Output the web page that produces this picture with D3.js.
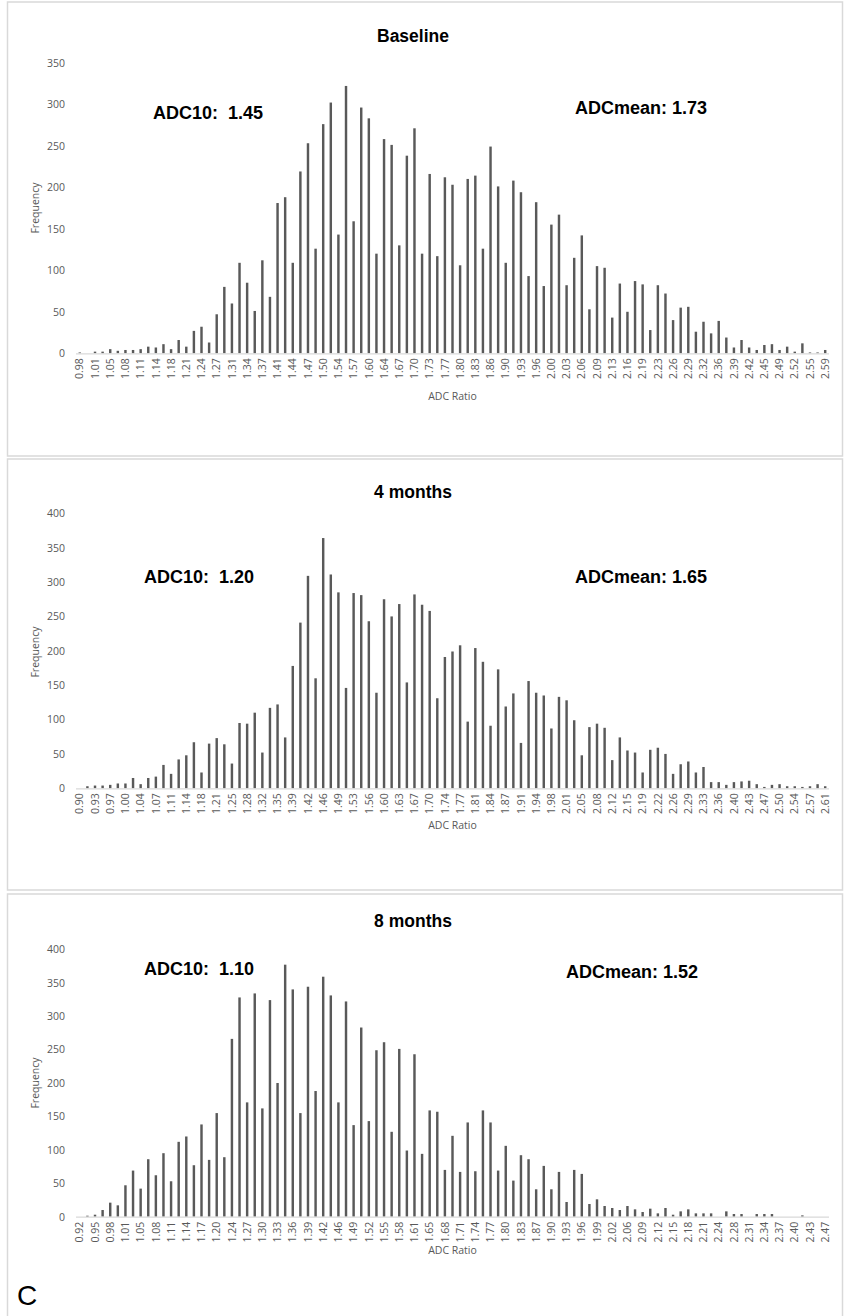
<!DOCTYPE html>
<html lang="en">
<head>
<meta charset="UTF-8">
<title>ADC Ratio histograms</title>
<script src="https://cdn.jsdelivr.net/npm/d3@7"></script>
<style>
    body{ margin:0; background:#fff; }
    svg{ display:block; }
    .tick text{ fill:#595959; font-family:"Open Sans", sans-serif; font-size:10.5px; }
    .axis-title{ fill:#595959; font-family:"Open Sans", sans-serif; font-size:10.5px; }
    .chart-title{ font-family:"Liberation Sans", Arial, sans-serif; font-weight:bold; font-size:17.5px; fill:#000; }
    .note{ font-family:"Liberation Sans", Arial, sans-serif; font-weight:bold; font-size:18px; fill:#000; white-space:pre; }
    .bar{ fill:#595959; }
    .frame{ fill:none; stroke:#d9d9d9; stroke-width:1.5px; }
</style>
</head>
<body>
<script>
// frequencies per bin
const baselineFreq = [1,0,2,2,5,3,4,4,5,8, 7,11,5,16,8,27,32,13,47,80, 60,109,85,51,112,68,181,188,109,
    219,253,126,276,302,143,322,159,296,283, 120,258,251,130,238,271,120,216,117,212, 203,106,210,214,126,249,201,109,208,194, 93,182,81,155,167,82,
    115,142,53,105,103,43,84,50,87,83, 28,82,72,40,55,56,26,38,24,39, 19,7,16,7,4,10,11,4,8,2, 12,1,1,4];
const month4Freq = [0,3,4,4,5,7,7,15,6,15, 17,34,21,42,48,67,23,65,73,64, 36,95,94,110,52,117,122,74,178,241,
    309,160,364,311,285,146,284,281,243,139, 275,250,268,154,282,267,258,131,191,199, 208,97,204,184,91,173,119,138,66,156, 139,135,87,133,128,
    99,48,89,94,88,41,74,55,52,23, 56,59,50,21,35,39,23,31,9,9, 5,9,10,11,6,2,5,6,3,3, 2,3,6,3];
const month8Freq = [0,1.5,3,10,21,17,47,69,42,86, 62,95,53,112,120,77,138,85,155,89, 266,328,171,334,162,324,200,377,340,
    155,344,188,359,331,171,322,137,283,143, 249,261,127,251,99,243,94,159,157,70, 121,67,141,68,159,141,69,106,54,92, 86,41,76,41,67,22,
    70,64,19,26,16,13,10,16,11,7, 12,5,13,3,8,11,5,5,5,0, 8,4,4,0,4,4,4,0,0,0, 2,0,0,0];

// category labels shown on every second bin
const baselineLabels = ["0.98","1.01","1.05","1.08","1.11","1.14","1.18","1.21","1.24","1.27","1.31","1.34","1.37","1.41","1.44","1.47","1.50","1.54","1.57","1.60",
    "1.64","1.67","1.70","1.73","1.77","1.80","1.83","1.86","1.90","1.93","1.96","2.00","2.03","2.06","2.09","2.13","2.16","2.19","2.23","2.26",
    "2.29","2.32","2.36","2.39","2.42","2.45","2.49","2.52","2.55","2.59"];
const month4Labels = ["0.90","0.93","0.97","1.00","1.04","1.07","1.11","1.14","1.18","1.21","1.25","1.28","1.32","1.35","1.39","1.42","1.46","1.49","1.53","1.56",
    "1.60","1.63","1.67","1.70","1.74","1.77","1.81","1.84","1.87","1.91","1.94","1.98","2.01","2.05","2.08","2.12","2.15","2.19","2.22","2.26",
    "2.29","2.33","2.36","2.40","2.43","2.47","2.50","2.54","2.57","2.61"];
const month8Labels = ["0.92","0.95","0.98","1.01","1.05","1.08","1.11","1.14","1.17","1.20","1.24","1.27","1.30","1.33","1.36","1.39","1.42","1.46","1.49","1.52",
    "1.55","1.58","1.61","1.65","1.68","1.71","1.74","1.77","1.80","1.83","1.87","1.90","1.93","1.96","1.99","2.02","2.06","2.09","2.12","2.15",
    "2.18","2.21","2.24","2.28","2.31","2.34","2.37","2.40","2.43","2.47"];

const titles = ["Baseline", "4 months", "8 months"];
const adc10 = ["1.45", "1.20", "1.10"];
const adcMean = ["1.73", "1.65", "1.52"];
const yMax = [350, 400, 400];

const width = 844, height = 1316;
const svg = d3.select("body").append("svg")
    .attr("width", width).attr("height", height)
    .attr("viewBox", `0 0 ${width} ${height}`);

// layout of the three stacked panels
const panels = [
    {freq: baselineFreq, labels: baselineLabels, frameTop: 2, frameBottom: 456, titleY: 42, y0: 353.3, yTop: 62.7,
        xTitleY: 400, freqY: 208, adc10Pos: [153, 119], meanPos: [575, 114]},
    {freq: month4Freq, labels: month4Labels, frameTop: 459, frameBottom: 890, titleY: 498, y0: 788.3, yTop: 513.3,
        xTitleY: 829, freqY: 652, adc10Pos: [144, 583], meanPos: [575, 583]},
    {freq: month8Freq, labels: month8Labels, frameTop: 894, frameBottom: 1330, titleY: 927, y0: 1216.7, yTop: 949.3,
        xTitleY: 1254, freqY: 1083, adc10Pos: [144, 975], meanPos: [566, 978]}
];

const xLeft = 76, xRight = 829;

panels.forEach((p, k) => {
    const g = svg.append("g");

    g.append("rect").attr("class", "frame")
        .attr("x", 7.5).attr("y", p.frameTop)
        .attr("width", 835).attr("height", p.frameBottom - p.frameTop);

    const idx = d3.range(p.freq.length);
    const x = d3.scaleBand()
        .domain(idx)
        .range([xLeft, xRight])
        .paddingInner(0.68)
        .paddingOuter(0.34);
    const y = d3.scaleLinear()
        .domain([0, yMax[k]])
        .range([p.y0, p.yTop]);

    // y axis, labels only
    g.append("g")
        .attr("transform", `translate(${xLeft},0)`)
        .call(d3.axisLeft(y).ticks(yMax[k] / 50).tickSize(0).tickPadding(11))
        .call(a => a.select(".domain").remove());

    // bars
    g.append("g").selectAll("rect")
        .data(p.freq)
        .join("rect")
        .attr("class", "bar")
        .attr("x", (d, i) => x(i))
        .attr("width", x.bandwidth())
        .attr("y", d => y(d))
        .attr("height", d => p.y0 - y(d));

    // category axis
    const xAxis = d3.axisBottom(x)
        .tickValues(idx.filter(i => i % 2 === 0))
        .tickFormat(i => p.labels[i / 2])
        .tickSize(0)
        .tickSizeOuter(0);
    const xa = g.append("g")
        .attr("transform", `translate(0,${p.y0})`)
        .call(xAxis);
    xa.select(".domain").attr("stroke", "#d9d9d9").attr("stroke-width", 1.2)
        .attr("d", `M${xLeft},0.5H${xRight}`);
    xa.selectAll(".tick text")
        .attr("transform", "rotate(-90)")
        .attr("x", -5)
        .attr("y", 0)
        .attr("dy", "0.35em")
        .attr("text-anchor", "end");

    // titles
    g.append("text").attr("class", "chart-title")
        .attr("x", 413).attr("y", p.titleY)
        .attr("text-anchor", "middle")
        .text(titles[k]);
    g.append("text").attr("class", "axis-title")
        .attr("x", (xLeft + xRight) / 2).attr("y", p.xTitleY)
        .attr("text-anchor", "middle")
        .text("ADC Ratio");
    g.append("text").attr("class", "axis-title")
        .attr("transform", `translate(39,${p.freqY}) rotate(-90)`)
        .attr("text-anchor", "middle")
        .text("Frequency");

    g.append("text").attr("class", "note")
        .attr("x", p.adc10Pos[0]).attr("y", p.adc10Pos[1])
        .text("ADC10:  " + adc10[k]);
    g.append("text").attr("class", "note")
        .attr("x", p.meanPos[0]).attr("y", p.meanPos[1])
        .text("ADCmean: " + adcMean[k]);
});

svg.append("text")
    .attr("x", 17).attr("y", 1305)
    .attr("font-family", "Liberation Sans, Arial, sans-serif")
    .attr("font-size", 28)
    .text("C");
</script>
</body>
</html>
